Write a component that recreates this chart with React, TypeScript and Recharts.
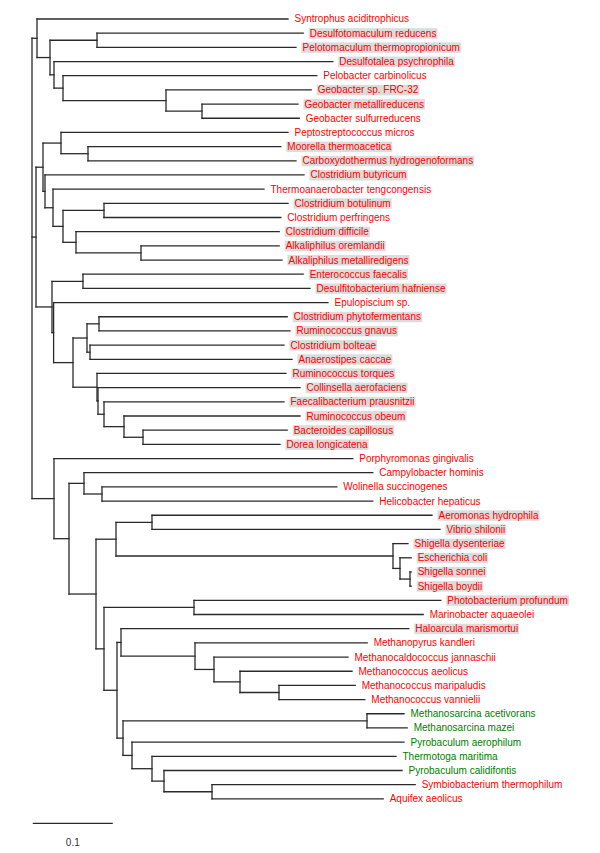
import React from 'react';
import { ComposedChart, XAxis, YAxis, Scatter, ReferenceLine } from 'recharts';

// ---------- DATA ----------
const leafNames: string[] = [
  'Syntrophus aciditrophicus',
  'Desulfotomaculum reducens',
  'Pelotomaculum thermopropionicum',
  'Desulfotalea psychrophila',
  'Pelobacter carbinolicus',
  'Geobacter sp. FRC-32',
  'Geobacter metallireducens',
  'Geobacter sulfurreducens',
  'Peptostreptococcus micros',
  'Moorella thermoacetica',
  'Carboxydothermus hydrogenoformans',
  'Clostridium butyricum',
  'Thermoanaerobacter tengcongensis',
  'Clostridium botulinum',
  'Clostridium perfringens',
  'Clostridium difficile',
  'Alkaliphilus oremlandii',
  'Alkaliphilus metalliredigens',
  'Enterococcus faecalis',
  'Desulfitobacterium hafniense',
  'Epulopiscium sp.',
  'Clostridium phytofermentans',
  'Ruminococcus gnavus',
  'Clostridium bolteae',
  'Anaerostipes caccae',
  'Ruminococcus torques',
  'Collinsella aerofaciens',
  'Faecalibacterium prausnitzii',
  'Ruminococcus obeum',
  'Bacteroides capillosus',
  'Dorea longicatena',
  'Porphyromonas gingivalis',
  'Campylobacter hominis',
  'Wolinella succinogenes',
  'Helicobacter hepaticus',
  'Aeromonas hydrophila',
  'Vibrio shilonii',
  'Shigella dysenteriae',
  'Escherichia coli',
  'Shigella sonnei',
  'Shigella boydii',
  'Photobacterium profundum',
  'Marinobacter aquaeolei',
  'Haloarcula marismortui',
  'Methanopyrus kandleri',
  'Methanocaldococcus jannaschii',
  'Methanococcus aeolicus',
  'Methanococcus maripaludis',
  'Methanococcus vannielii',
  'Methanosarcina acetivorans',
  'Methanosarcina mazei',
  'Pyrobaculum aerophilum',
  'Thermotoga maritima',
  'Pyrobaculum calidifontis',
  'Symbiobacterium thermophilum',
  'Aquifex aeolicus',
];

// distance of each leaf tip from the root (substitutions per site)
const leafTipDepth: number[] = [
  0.32, 0.339, 0.33, 0.376, 0.356, 0.349, 0.3325, 0.334,
  0.32, 0.311, 0.33, 0.34, 0.29, 0.32, 0.311, 0.309, 0.309, 0.3125,
  0.339, 0.3475, 0.37, 0.319, 0.3225, 0.315, 0.325, 0.3175, 0.335, 0.315, 0.335, 0.319, 0.31,
  0.401, 0.426, 0.381, 0.426,
  0.5, 0.51, 0.47, 0.474, 0.474, 0.474,
  0.511, 0.489, 0.471,
  0.419, 0.395, 0.4, 0.404, 0.416,
  0.465, 0.469, 0.465, 0.455, 0.4625, 0.479, 0.439,
];

const highlightedLeaves: number[] = [
  1, 2, 3, 5, 6, 9, 10, 11, 13, 15, 16, 17, 18, 19,
  21, 22, 23, 24, 25, 26, 27, 28, 29, 30,
  35, 36, 37, 38, 39, 40, 41, 43,
];

const greenLeaves: number[] = [49, 50, 51, 52, 53];

type Clade = { id: string; depth: number; children: (number | string)[] };

// internal nodes: depth from root, children (leaf index or clade id)
const clades: Clade[] = [
  { id: 'R', depth: 0.0, children: ['A', 'C', 'M'] },
  { id: 'A', depth: 0.00625, children: [0, 'B'] },
  { id: 'B', depth: 0.0225, children: ['B1', 'N1'] },
  { id: 'B1', depth: 0.08125, children: [1, 2] },
  { id: 'N1', depth: 0.0275, children: [3, 'N2'] },
  { id: 'N2', depth: 0.03875, children: [4, 'N3'] },
  { id: 'N3', depth: 0.1675, children: [5, 'N4'] },
  { id: 'N4', depth: 0.2125, children: [6, 7] },
  { id: 'C', depth: 0.005, children: ['D', 'P'] },
  { id: 'D', depth: 0.01375, children: ['F', 'G'] },
  { id: 'F', depth: 0.03625, children: [8, 'E'] },
  { id: 'E', depth: 0.07, children: [9, 10] },
  { id: 'G', depth: 0.01625, children: [11, 'H'] },
  { id: 'H', depth: 0.02625, children: [12, 'I'] },
  { id: 'I', depth: 0.03875, children: ['J', 'K'] },
  { id: 'J', depth: 0.09, children: [13, 14] },
  { id: 'K', depth: 0.055, children: [15, 'L'] },
  { id: 'L', depth: 0.13625, children: [16, 17] },
  { id: 'P', depth: 0.025, children: ['Q', 'S'] },
  { id: 'Q', depth: 0.06375, children: [18, 19] },
  { id: 'S', depth: 0.027, children: [20, 'T'] },
  { id: 'T', depth: 0.05125, children: ['U', 'X'] },
  { id: 'U', depth: 0.06875, children: ['V', 'W'] },
  { id: 'V', depth: 0.08375, children: [21, 22] },
  { id: 'W', depth: 0.0725, children: [23, 24] },
  { id: 'X', depth: 0.08125, children: [25, 'Y'] },
  { id: 'Y', depth: 0.0825, children: [26, 'Z'] },
  { id: 'Z', depth: 0.09, children: [27, 'AA'] },
  { id: 'AA', depth: 0.115, children: [28, 'AB'] },
  { id: 'AB', depth: 0.13875, children: [29, 30] },
  { id: 'M', depth: 0.0275, children: [31, 'N'] },
  { id: 'N', depth: 0.04625, children: ['O', 'PP'] },
  { id: 'O', depth: 0.065, children: [32, 'OO'] },
  { id: 'OO', depth: 0.0875, children: [33, 34] },
  { id: 'PP', depth: 0.08, children: ['QQ', 'VV'] },
  { id: 'QQ', depth: 0.105, children: ['RR', 'SS'] },
  { id: 'RR', depth: 0.15, children: [35, 36] },
  { id: 'SS', depth: 0.45125, children: [37, 'TT'] },
  { id: 'TT', depth: 0.46, children: [38, 'UU'] },
  { id: 'UU', depth: 0.4725, children: [39, 40] },
  { id: 'VV', depth: 0.09, children: ['WW', 'XX'] },
  { id: 'WW', depth: 0.2025, children: [41, 42] },
  { id: 'XX', depth: 0.10625, children: ['YY', 'AA1'] },
  { id: 'YY', depth: 0.11125, children: [43, 'ZZ'] },
  { id: 'ZZ', depth: 0.20375, children: [44, 'Z1'] },
  { id: 'Z1', depth: 0.2275, children: [45, 'Z2'] },
  { id: 'Z2', depth: 0.26, children: [46, 'Z3'] },
  { id: 'Z3', depth: 0.30875, children: [47, 48] },
  { id: 'AA1', depth: 0.11375, children: ['AB1', 'AC1'] },
  { id: 'AB1', depth: 0.41875, children: [49, 50] },
  { id: 'AC1', depth: 0.125, children: [51, 'AD1'] },
  { id: 'AD1', depth: 0.15, children: [52, 'AE1'] },
  { id: 'AE1', depth: 0.165, children: [53, 'AF1'] },
  { id: 'AF1', depth: 0.225, children: [54, 55] },
];

const scaleBarStart = 0.001;
const scaleBarLength = 0.1;
const scaleBarLabel = '0.1';
const scaleBarRow = 56.73;
const scaleLabelRow = 58.05;

// ---------- LAYOUT (from data) ----------
const cladeMap = new Map<string, Clade>(clades.map((c) => [c.id, c]));

function nodeRow(ref: number | string): number {
  if (typeof ref === 'number') return ref;
  const c = cladeMap.get(ref)!;
  const ys = c.children.map(nodeRow);
  return (Math.min(...ys) + Math.max(...ys)) / 2;
}
function nodeDepth(ref: number | string): number {
  if (typeof ref === 'number') return leafTipDepth[ref];
  return cladeMap.get(ref)!.depth;
}

type Seg = { x1: number; y1: number; x2: number; y2: number };
const segments: Seg[] = [];
clades.forEach((c) => {
  const ys = c.children.map(nodeRow);
  segments.push({ x1: c.depth, y1: Math.min(...ys), x2: c.depth, y2: Math.max(...ys) });
  c.children.forEach((ch, i) => {
    segments.push({ x1: c.depth, y1: ys[i], x2: nodeDepth(ch), y2: ys[i] });
  });
});

const leafData = leafNames.map((name, i) => ({
  x: leafTipDepth[i],
  y: i,
  name,
  highlight: highlightedLeaves.includes(i),
  color: greenLeaves.includes(i) ? '#008000' : '#ff0000',
}));

const scaleLabelData = [{ x: scaleBarStart + scaleBarLength / 2, y: scaleLabelRow, name: scaleBarLabel }];

// ---------- STYLE ----------
const FONT = "'Liberation Sans', Arial, Helvetica, sans-serif";
const FONT_SIZE = 10;
const LINE_COLOR = '#2a2a2a';
const LINE_WIDTH = 1.3;

let measureCtx: CanvasRenderingContext2D | null = null;
function textWidth(s: string): number {
  if (!measureCtx) {
    const cv = document.createElement('canvas');
    measureCtx = cv.getContext('2d');
  }
  if (!measureCtx) return s.length * 5;
  measureCtx.font = `${FONT_SIZE}px ${FONT}`;
  return measureCtx.measureText(s).width;
}

const LeafLabel = (props: any) => {
  const { cx, cy, payload } = props;
  if (cx == null || cy == null) return null;
  const tx = cx + 6.5;
  const w = textWidth(payload.name);
  return (
    <g>
      {payload.highlight && (
        <rect x={tx - 1} y={cy - 5} width={w + 2} height={10.5} fill="#dcdcdc" />
      )}
      <text x={tx} y={cy} dy={3.5} fontSize={FONT_SIZE} fontFamily={FONT} fill={payload.color}>
        {payload.name}
      </text>
    </g>
  );
};

const ScaleLabel = (props: any) => {
  const { cx, cy, payload } = props;
  if (cx == null || cy == null) return null;
  return (
    <text x={cx} y={cy} dy={3.5} textAnchor="middle" fontSize={FONT_SIZE} fontFamily={FONT} fill="#333">
      {payload.name}
    </text>
  );
};

export default function App() {
  return (
    <div style={{ position: 'absolute', left: 0, top: 0, width: 600, height: 853, background: '#fff' }}>
      <ComposedChart width={600} height={853} margin={{ top: 0, right: 0, bottom: 0, left: 0 }}>
        <XAxis type="number" dataKey="x" domain={[-0.04, 0.71]} allowDataOverflow hide />
        <YAxis type="number" dataKey="y" domain={[-1.34, 58.82]} reversed allowDataOverflow hide />
        {segments.map((s, i) => (
          <ReferenceLine
            key={`seg-${i}`}
            segment={[{ x: s.x1, y: s.y1 }, { x: s.x2, y: s.y2 }]}
            stroke={LINE_COLOR}
            strokeWidth={LINE_WIDTH}
            strokeLinecap="square"
            ifOverflow="visible"
          />
        ))}
        <ReferenceLine
          segment={[
            { x: scaleBarStart, y: scaleBarRow },
            { x: scaleBarStart + scaleBarLength, y: scaleBarRow },
          ]}
          stroke={LINE_COLOR}
          strokeWidth={LINE_WIDTH}
          ifOverflow="visible"
        />
        <Scatter data={leafData} shape={<LeafLabel />} isAnimationActive={false} />
        <Scatter data={scaleLabelData} shape={<ScaleLabel />} isAnimationActive={false} />
      </ComposedChart>
    </div>
  );
}
